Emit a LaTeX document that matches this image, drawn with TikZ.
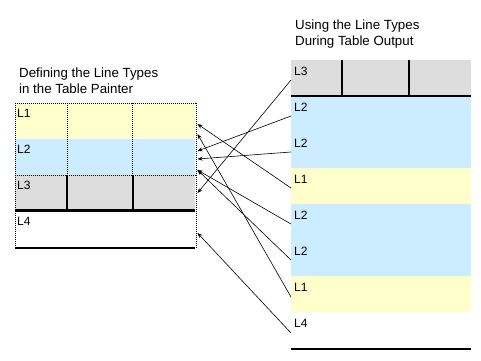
\documentclass[tikz,border=0pt]{standalone}
\usepackage{fontspec}
\setmainfont{Liberation Sans}
\usetikzlibrary{arrows.meta}
\definecolor{rowyel}{HTML}{FFFFCC}
\definecolor{rowblue}{HTML}{CCECFF}
\definecolor{rowgray}{HTML}{DDDDDD}
\tikzset{
  dotline/.style={line width=0.9pt, dash pattern=on 1pt off 1pt},
  heavy/.style={line width=2.6pt},
  rule/.style={line width=2pt},
  lbl/.style={anchor=base west, inner sep=0pt, font=\fontsize{12}{14}\selectfont},
  ttl/.style={anchor=base west, inner sep=0pt, align=left, font=\fontsize{13.3}{16}\selectfont},
  link/.style={line width=0.6pt, -{Stealth[length=5pt,width=4pt]}}
}
\begin{document}
\begin{tikzpicture}[x=1pt,y=-1pt]
\useasboundingbox (0,0) rectangle (481,360);
% Titles (base anchor sits on the second line)
\node[ttl] (deftitle) at (19,93) {Defining the Line Types\\in the Table Painter};
\node[ttl] (usetitle) at (295,45) {Using the Line Types\\During Table Output};
% Left table: painter rows
\fill[rowyel] (15,103) rectangle (195,138);
\fill[rowblue] (15,139) rectangle (195,175);
\fill[rowgray] (15,175) rectangle (195,211);
\draw[dotline] (15,103.5) -- (196.5,103.5);
\draw[dotline] (15.5,103) -- (15.5,248);
\draw[dotline] (196.5,103) -- (196.5,248);
\draw[dotline] (15,175.5) -- (196,175.5);
\foreach \cx in {67,132.5}{
  \draw[dotline] (\cx,103) -- (\cx,175);
  \draw[rule] (\cx,175) -- (\cx,210);
}
\draw[heavy] (15,210.5) -- (195,210.5);
\draw[rule] (15,247.5) -- (195,247.5);
\node[lbl] (dL1) at (17,117) {L1};
\node[lbl] (dL2) at (17,153) {L2};
\node[lbl] (dL3) at (17,189) {L3};
\node[lbl] (dL4) at (17,225) {L4};
% Right table: output rows
\fill[rowgray] (291,60) rectangle (471,96);
\fill[rowblue] (291,96) rectangle (471,168);
\fill[rowyel] (291,168) rectangle (471,204);
\fill[rowblue] (291,204) rectangle (471,276);
\fill[rowyel] (291,276) rectangle (471,312);
\foreach \cx in {342,408.5}
  \draw[rule] (\cx,60) -- (\cx,96);
\draw[heavy] (291,96) -- (471,96);
\draw[heavy] (291,349) -- (471,349);
\node[lbl] (oL3) at (294,75) {L3};
\node[lbl] (oL2a) at (294,111) {L2};
\node[lbl] (oL2b) at (294,147) {L2};
\node[lbl] (oL1a) at (294,183) {L1};
\node[lbl] (oL2c) at (294,219) {L2};
\node[lbl] (oL2d) at (294,255) {L2};
\node[lbl] (oL1b) at (294,291) {L1};
\node[lbl] (oL4) at (294,327) {L4};
% Link points
\coordinate (s3) at (291,80);
\coordinate (s2a) at (291,116);
\coordinate (s2b) at (291,152);
\coordinate (s1a) at (291,188);
\coordinate (s2c) at (291,224);
\coordinate (s2d) at (291,260);
\coordinate (s1b) at (291,297);
\coordinate (s4) at (291,333);
\coordinate (t1a) at (197.5,124);
\coordinate (t1b) at (197.5,134);
\coordinate (t2a) at (197.5,151);
\coordinate (t2b) at (197.5,159);
\coordinate (t2c) at (197.5,170);
\coordinate (t3) at (197.5,193);
\coordinate (t4) at (197.5,233);
% Links from output rows back to painter rows
\draw[link] (s3) -- (t3);
\draw[link] (s2a) -- (t2a);
\draw[link] (s2b) -- (t2b);
\draw[link] (s1a) -- (t1a);
\draw[link] (s2c) -- (t2c);
\draw[link] (s2d) -- (t2c);
\draw[link] (s1b) -- (t1b);
\draw[link] (s4) -- (t4);
\end{tikzpicture}
\end{document}
